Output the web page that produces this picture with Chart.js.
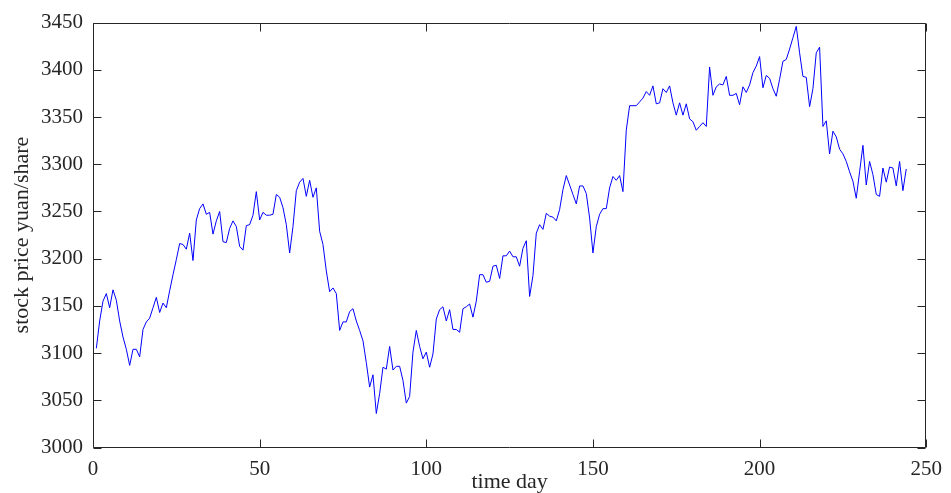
<!DOCTYPE html>
<html>
<head>
<meta charset="utf-8">
<script src="https://cdn.jsdelivr.net/npm/chart.js@4"></script>
<style>
  html, body { margin: 0; padding: 0; background: #fff; }
  canvas { display: block; }
</style>
</head>
<body>
<canvas id="priceChart" width="951" height="493"></canvas>
<script>
// closing price per trading day
const prices = [
  3105, 3134, 3155, 3163, 3148, 3167, 3156, 3134, 3117, 3104,
  3087, 3104, 3104, 3096, 3125, 3133, 3137, 3148, 3159, 3143,
  3153, 3148, 3166, 3183, 3199, 3216, 3215, 3210, 3227, 3198,
  3241, 3253, 3258, 3247, 3249, 3226, 3240, 3250, 3218, 3217,
  3232, 3240, 3234, 3213, 3209, 3235, 3236, 3246, 3271, 3241,
  3249, 3246, 3246, 3247, 3268, 3265, 3254, 3236, 3206, 3234,
  3272, 3281, 3285, 3266, 3283, 3265, 3275, 3229, 3215, 3187,
  3165, 3169, 3163, 3124, 3133, 3133, 3144, 3147, 3134, 3124,
  3113, 3090, 3064, 3077, 3036, 3057, 3085, 3083, 3107, 3082,
  3086, 3086, 3071, 3047, 3054, 3101, 3124, 3107, 3094, 3101,
  3085, 3099, 3136, 3146, 3149, 3134, 3146, 3125, 3125, 3122,
  3147, 3149, 3152, 3138, 3155, 3183, 3183, 3175, 3176, 3192,
  3193, 3179, 3203, 3203, 3208, 3202, 3202, 3192, 3211, 3219,
  3160, 3182, 3227, 3236, 3231, 3248, 3245, 3244, 3240, 3252,
  3273, 3288, 3278, 3268, 3258, 3277, 3277, 3269, 3243, 3206,
  3234, 3247, 3253, 3253, 3275, 3287, 3283, 3288, 3271, 3336,
  3362, 3362, 3362, 3366, 3370, 3377, 3373, 3383, 3364, 3365,
  3380, 3376, 3383, 3365, 3352, 3365, 3352, 3364, 3348, 3345,
  3336, 3340, 3344, 3340, 3403, 3373, 3382, 3385, 3384, 3393,
  3373, 3373, 3375, 3363, 3382, 3376, 3384, 3397, 3404, 3414,
  3381, 3394, 3391, 3380, 3372, 3390, 3409, 3411, 3422, 3434,
  3446, 3418, 3393, 3392, 3361, 3380, 3418, 3424, 3340, 3346,
  3311, 3335, 3329, 3316, 3311, 3303, 3292, 3282, 3264, 3292,
  3320, 3278, 3303, 3289, 3268, 3266, 3296, 3281, 3297, 3296,
  3277, 3303, 3272, 3295
];
const days = prices.map((_, i) => i + 1);

const xTicks = [0, 50, 100, 150, 200, 250];
const yTicks = [3000, 3050, 3100, 3150, 3200, 3250, 3300, 3350, 3400, 3450];

const axisColor = "#262626";
const serif = "'Liberation Serif', 'Times New Roman', serif";

// matlab style box with inward ticks on all four sides
const boxTicks = {
  id: "boxTicks",
  afterDraw(chart) {
    const { ctx, chartArea: a, scales } = chart;
    const len = 8;
    const L = Math.round(a.left) + 0.5, R = Math.round(a.right) - 0.5;
    const T = Math.round(a.top) + 0.5, B = Math.round(a.bottom) - 0.5;
    ctx.save();
    ctx.strokeStyle = axisColor;
    ctx.lineWidth = 1;
    ctx.beginPath();
    ctx.rect(L, T, R - L, B - T);
    scales.x.ticks.forEach((t) => {
      const px = Math.round(scales.x.getPixelForValue(t.value)) + 0.5;
      ctx.moveTo(px, B); ctx.lineTo(px, B - len);
      ctx.moveTo(px, T); ctx.lineTo(px, T + len);
    });
    scales.y.ticks.forEach((t) => {
      const py = Math.round(scales.y.getPixelForValue(t.value)) + 0.5;
      ctx.moveTo(L, py); ctx.lineTo(L + len, py);
      ctx.moveTo(R, py); ctx.lineTo(R - len, py);
    });
    ctx.stroke();
    ctx.restore();
  },
};

new Chart(document.getElementById("priceChart"), {
  type: "line",
  data: {
    datasets: [
      {
        data: days.map((d, i) => ({ x: d, y: prices[i] })),
        borderColor: "#0000ff",
        borderWidth: 1,
        pointRadius: 0,
        tension: 0,
        fill: false,
      },
    ],
  },
  options: {
    responsive: false,
    devicePixelRatio: 1,
    animation: false,
    layout: { padding: { left: 0, top: 20, right: 24, bottom: 0 } },
    plugins: {
      legend: { display: false },
      tooltip: { enabled: false },
    },
    scales: {
      x: {
        type: "linear",
        min: 0,
        max: 250,
        afterBuildTicks: (s) => { s.ticks = xTicks.map((v) => ({ value: v })); },
        afterFit: (s) => { s.height = 45.5; },
        grid: { display: false, drawTicks: false },
        border: { display: false },
        ticks: {
          color: axisColor,
          padding: 9,
          maxRotation: 0,
          font: { family: serif, size: 21 },
          callback: (v) => String(v),
        },
        title: {
          display: true,
          text: "time day",
          color: axisColor,
          padding: { top: 0, bottom: -2 },
          font: { family: serif, size: 22 },
        },
      },
      y: {
        min: 3000,
        max: 3450,
        afterBuildTicks: (s) => { s.ticks = yTicks.map((v) => ({ value: v })); },
        afterFit: (s) => { s.width = 93; },
        grid: { display: false, drawTicks: false },
        border: { display: false },
        ticks: {
          color: axisColor,
          padding: 10,
          font: { family: serif, size: 21 },
          callback: (v) => String(v),
        },
        title: {
          display: true,
          text: "stock price yuan/share",
          color: axisColor,
          padding: { top: 9, bottom: 0 },
          font: { family: serif, size: 22 },
        },
      },
    },
  },
  plugins: [boxTicks],
});
</script>
</body>
</html>
